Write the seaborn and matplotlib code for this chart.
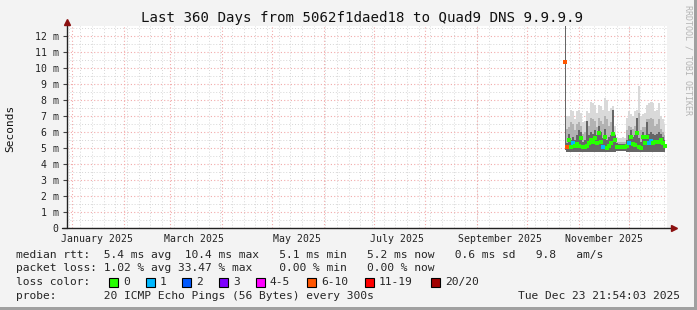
import matplotlib
matplotlib.use("Agg")
import matplotlib.pyplot as plt
import matplotlib.dates as mdates
from matplotlib.ticker import MultipleLocator, FixedLocator, FuncFormatter
from matplotlib.patches import Rectangle
import pandas as pd
import seaborn as sns

# ---------------- data ----------------
range_start = "2024-12-28 21:54:03"
range_end = "2025-12-23 21:54:03"
first_sample = "2025-10-23 16:00"
sample_step = "1728min"

median_ms = [10.4, 5.08, 5.5, 5.08, 5.29, 5.12, 5.25, 5.12, 5.6, 5.08,
             5.08, 5.12, 5.29, 5.5, 5.35, 5.6, 5.3, 5.92, 5.4, 5.08,
             5.7, 4.98, 5.12, 5.29, 5.87, 5.5, 5.08, 5.05, 5.05, 5.05,
             5.05, 5.1, 5.3, 5.67, 5.25, 5.2, 5.92, 5.08, 4.98, 5.71,
             5.29, 5.71, 5.3, 5.45, 5.29, 5.4, 5.4, 5.4, 5.5, 5.3, 5.15]
loss_class = ["6-10", "6-10", "0", "0", "1", "0", "0", "0", "0", "0",
              "0", "0", "0", "0", "0", "0", "0", "0", "0", "1",
              "0", "0", "0", "0", "0", "0", "0", "0", "0", "0",
              "0", "0", "1", "0", "0", "0", "0", "0", "0", "0",
              "0", "0", "1", "1", "0", "0", "0", "0", "0", "0", "0"]
smoke_min = [4.9, 4.75, 4.75, 4.74, 4.75, 4.76, 4.75, 4.74, 4.75, 4.76,
             4.75, 4.74, 4.75, 4.75, 4.74, 4.75, 4.76, 4.74, 4.75, 4.75,
             4.74, 4.73, 4.75, 4.75, 4.74, 4.76, 4.8, 4.8, 4.8, 4.8,
             4.8, 4.77, 4.75, 4.74, 4.75, 4.75, 4.74, 4.75, 4.73, 4.75,
             4.75, 4.74, 4.75, 4.75, 4.76, 4.75, 4.75, 4.75, 4.76, 4.75, 4.76]
smoke_dark = [13.0, 5.3, 5.9, 5.5, 5.7, 5.5, 5.8, 6.1, 6.0, 5.4,
              5.5, 6.7, 5.8, 6.0, 5.9, 6.1, 5.8, 6.4, 6.0, 5.6,
              6.2, 5.5, 5.7, 5.8, 7.4, 5.8, 5.3, 5.25, 5.25, 5.25,
              5.25, 5.5, 5.8, 6.1, 5.7, 5.8, 6.9, 5.6, 5.4, 6.0,
              5.8, 6.6, 5.9, 6.0, 5.9, 5.8, 5.9, 6.0, 5.9, 5.7, 5.5]
smoke_mid = [13.0, 6.2, 6.3, 6.6, 6.5, 6.1, 6.5, 6.6, 6.4, 5.9,
             6.0, 6.4, 6.4, 6.9, 6.8, 6.7, 6.3, 6.9, 6.7, 6.5,
             7.0, 6.8, 6.4, 6.6, 6.8, 5.9, 5.4, 5.35, 5.35, 5.4,
             5.35, 6.1, 6.4, 6.3, 6.2, 6.4, 6.6, 7.2, 6.1, 6.3,
             6.3, 6.8, 6.8, 6.9, 6.8, 6.4, 6.5, 6.8, 6.2, 6.0, 5.8]
smoke_max = [13.0, 7.0, 7.0, 7.4, 7.3, 6.8, 7.3, 7.4, 7.2, 6.6,
             6.7, 7.3, 7.2, 7.9, 7.8, 7.7, 7.2, 7.7, 7.6, 7.4,
             8.1, 8.0, 7.3, 7.5, 7.6, 6.4, 5.7, 5.6, 5.6, 5.7,
             5.6, 6.9, 7.3, 7.1, 7.0, 7.3, 7.4, 8.9, 7.0, 7.1,
             7.2, 7.7, 7.8, 7.9, 7.8, 7.3, 7.4, 7.8, 7.0, 6.8, 6.5]

loss_labels = ["0", "1", "2", "3", "4-5", "6-10", "11-19", "20/20"]
loss_colors = ["#26ff00", "#00b8ff", "#0059ff", "#7e00ff", "#ff00ff",
               "#ff5500", "#ff0000", "#a10000"]

y_ticks = [0, 1, 2, 3, 4, 5, 6, 7, 8, 9, 10, 11, 12]
x_label_dates = ["2025-01-16", "2025-03-15", "2025-05-16", "2025-07-15",
                 "2025-09-15", "2025-11-16"]
x_labels = ["January 2025", "March 2025", "May 2025", "July 2025",
            "September 2025", "November 2025"]

title = "Last 360 Days from 5062f1daed18 to Quad9 DNS 9.9.9.9"
legend_rows = [
    "median rtt:  5.4 ms avg  10.4 ms max   5.1 ms min   5.2 ms now   0.6 ms sd   9.8   am/s",
    "packet loss: 1.02 % avg 33.47 % max    0.00 % min   0.00 % now",
]
probe_text = "probe:       20 ICMP Echo Pings (56 Bytes) every 300s"
stamp_text = "Tue Dec 23 21:54:03 2025"

# ---------------- figure ----------------
sns.set_style("white")
plt.rcParams['font.family'] = ['DejaVu Sans Mono', 'DejaVu Sans']

W, H = 697, 310
BG = "#f3f3f3"
fig = plt.figure(figsize=(W / 100, H / 100), dpi=100, facecolor=BG)

def fx(px):
    return px / W

def fy(py):
    return 1 - py / H

ax_left, ax_right, ax_top, ax_bot = 67, 667, 26.4, 228
ax = fig.add_axes([fx(ax_left), fy(ax_bot), (ax_right - ax_left) / W, (ax_bot - ax_top) / H])
ax.set_facecolor("white")

times = pd.date_range(first_sample, periods=len(median_ms), freq=sample_step)
df = pd.DataFrame({"time": times, "median": median_ms, "loss": loss_class,
                   "smin": smoke_min, "sdark": smoke_dark,
                   "smid": smoke_mid, "smax": smoke_max})

# smoke
ax.fill_between(df["time"], df["smin"], df["smax"], step="mid", color="#d9d9d9", lw=0, zorder=2)
ax.fill_between(df["time"], df["smin"], df["smid"], step="mid", color="#b2b2b2", lw=0, zorder=3)
ax.fill_between(df["time"], df["smin"], df["sdark"], step="mid", color="#666666", lw=0, zorder=4)

palette = dict(zip(loss_labels, loss_colors))
sns.scatterplot(data=df, x="time", y="median", hue="loss", palette=palette,
                marker="s", s=8, linewidth=0, legend=False, ax=ax, zorder=6)

ax.set_xlim(pd.Timestamp(range_start), pd.Timestamp(range_end))
ax.set_ylim(0, 12.6)

# grid
ax.set_axisbelow(True)
ax.yaxis.set_major_locator(FixedLocator(y_ticks))
ax.yaxis.set_minor_locator(MultipleLocator(0.5))
ax.yaxis.set_major_formatter(FuncFormatter(lambda v, p: "0" if v == 0 else f"{int(round(v))} m"))
ax.xaxis.set_minor_locator(mdates.WeekdayLocator(byweekday=mdates.MO))
ax.set_xticks(pd.to_datetime(x_label_dates))
ax.set_xticklabels(x_labels)

ax.grid(False)
ax.yaxis.grid(True, which="minor", color="#d6d6d6", linestyle=(0, (1, 2)), linewidth=0.7, zorder=0)
ax.xaxis.grid(True, which="minor", color="#d6d6d6", linestyle=(0, (1, 2)), linewidth=0.7, zorder=0)
ax.yaxis.grid(True, which="major", color="#f2aaaa", linestyle=(0, (1, 2)), linewidth=0.8, zorder=1)
for d in pd.date_range("2025-01-01", "2025-12-01", freq="MS"):
    ax.axvline(d, color="#f2aaaa", linestyle=(0, (1, 2)), linewidth=0.8, zorder=1)

for s in ax.spines.values():
    s.set_visible(False)

ax.tick_params(axis="y", which="major", left=True, length=3, width=0.8, color="#444444",
               pad=3, labelsize=7.1, labelcolor="#222222")
ax.tick_params(axis="y", which="minor", left=False)
ax.tick_params(axis="x", which="both", bottom=False, length=0, pad=4.5,
               labelsize=7.1, labelcolor="#222222")
ax.set_xlabel("")
ax.set_ylabel("")

# axis lines with arrows
ax.plot([0, 0], [-0.0, 1.02], transform=ax.transAxes, color="#222222", lw=1, clip_on=False, zorder=8)
ax.plot([-0.009, 1.008], [0, 0], transform=ax.transAxes, color="#222222", lw=1, clip_on=False, zorder=8)
ax.plot([0], [1.022], marker="^", markersize=5, color="#8b1010", transform=ax.transAxes,
        clip_on=False, zorder=9)
ax.plot([1.011], [0], marker=">", markersize=5, color="#8b1010", transform=ax.transAxes,
        clip_on=False, zorder=9)

# texts
fig.text(fx(362), fy(18), title, ha="center", va="center", fontsize=10.2, color="#111111")
fig.text(fx(10), fy(128), "Seconds", rotation=90, ha="center", va="center", fontsize=8, color="#111111")
fig.text(fx(688), fy(60), "RRDTOOL / TOBI OETIKER", rotation=270, ha="center", va="center",
         fontsize=6, color="#b4b4b4")

row_y = [255, 268, 282, 296]
fs = 8.1
fig.text(fx(16), fy(row_y[0]), legend_rows[0], ha="left", va="center", fontsize=fs)
fig.text(fx(16), fy(row_y[1]), legend_rows[1], ha="left", va="center", fontsize=fs)
fig.text(fx(16), fy(row_y[2]), "loss color:", ha="left", va="center", fontsize=fs)
square_x = [109, 146, 182, 219, 256, 307, 365, 431]
for px, lab, col in zip(square_x, loss_labels, loss_colors):
    fig.patches.append(Rectangle((fx(px), fy(row_y[2] + 4.5)), 9 / W, 9 / H, transform=fig.transFigure,
                                 facecolor=col, edgecolor="black", linewidth=0.8))
    fig.text(fx(px + 14), fy(row_y[2]), lab, ha="left", va="center", fontsize=fs)
fig.text(fx(16), fy(row_y[3]), probe_text, ha="left", va="center", fontsize=fs)
fig.text(fx(680), fy(row_y[3]), stamp_text, ha="right", va="center", fontsize=fs)

# frame
fig.patches.append(Rectangle((fx(694), 0), 3 / W, 1, transform=fig.transFigure,
                             facecolor="#a0a0a0", edgecolor="none"))
fig.patches.append(Rectangle((0, 0), 1, 3 / H, transform=fig.transFigure,
                             facecolor="#a0a0a0", edgecolor="none"))

fig.savefig("out.png", dpi=100, facecolor=BG)
